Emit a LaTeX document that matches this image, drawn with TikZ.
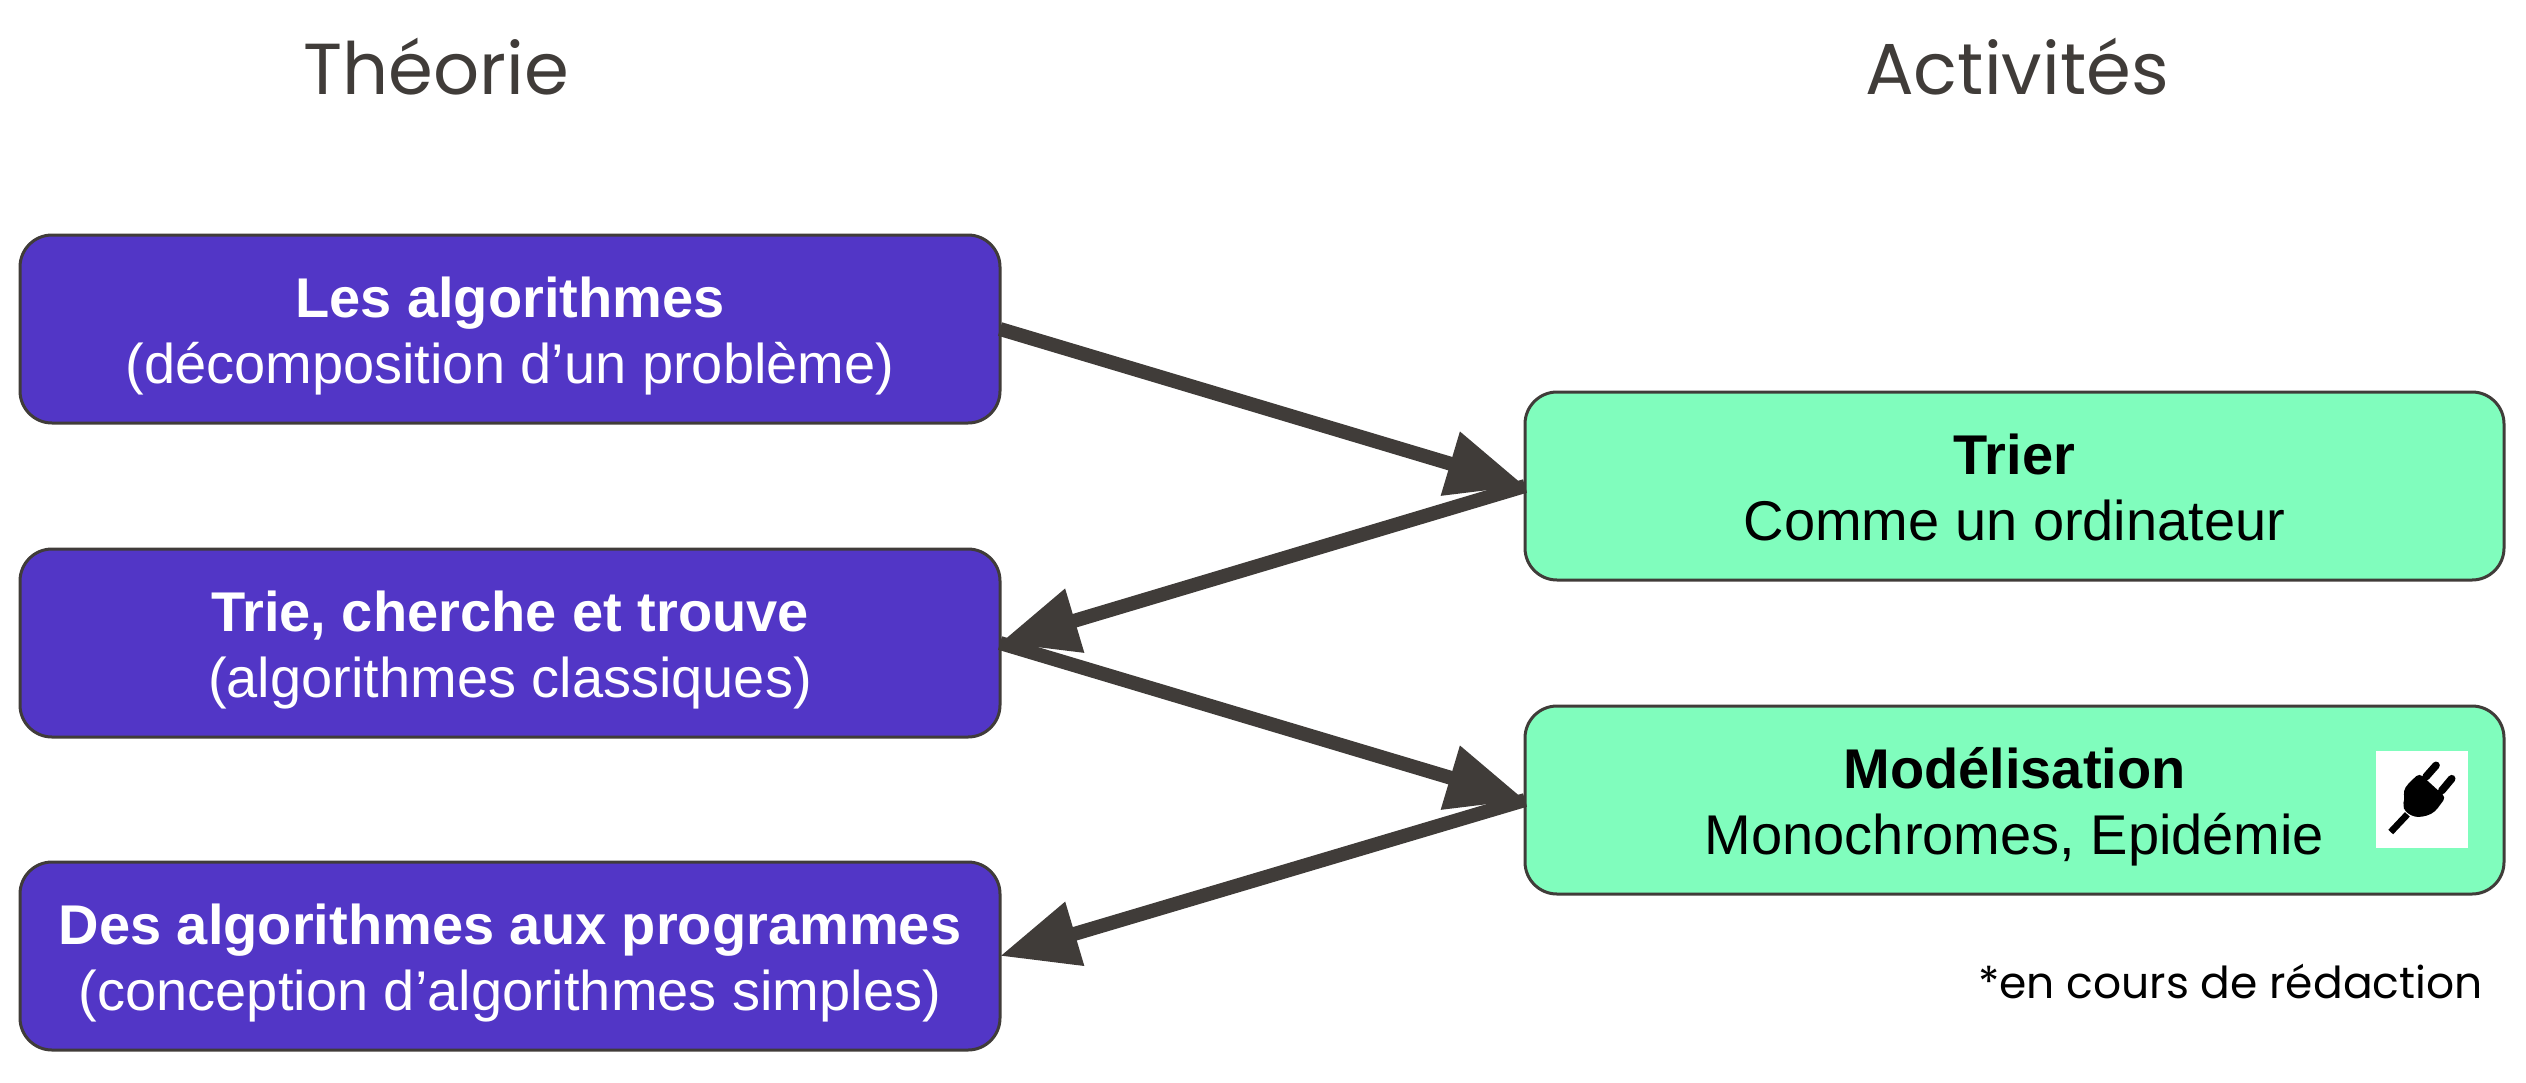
\documentclass[tikz,border=0pt]{standalone}
\usepackage{fontspec}
\setmainfont{Liberation Sans}
\newfontfamily\popp{Poppins}
\usetikzlibrary{arrows.meta}
\definecolor{violetbox}{HTML}{5236C6}
\definecolor{greenbox}{HTML}{80FDBD}
\definecolor{darkline}{HTML}{403C39}
\newcommand{\boxlines}[2]{\rule{0pt}{28pt}\textbf{#1}\\#2\rule[-6.8pt]{0pt}{6.8pt}}
\tikzset{
  px/.style={x=0.5pt,y=-0.5pt},
  boxbase/.style={draw=darkline,line width=1.5pt,rounded corners=16pt,minimum height=94pt,inner sep=0pt,outer sep=0pt,align=center,
    font=\fontsize{28pt}{33pt}\selectfont,anchor=north west},
  theory/.style={boxbase,fill=violetbox,text=white,minimum width=490pt},
  activity/.style={boxbase,fill=greenbox,text=black,minimum width=489.5pt},
  heading/.style={text=darkline,font=\popp\fontsize{36.1pt}{44pt}\selectfont,inner sep=0pt},
  link/.style={draw=darkline,line width=7pt,-{Triangle[length=39pt,width=31.5pt]}},
}
\begin{document}
\begin{tikzpicture}[px]
\useasboundingbox (0,0) rectangle (2526,1082);
\node[heading] (h1) at (436,67) {Théorie};
\node[heading] (h2) at (2017,67) {Activités};
\node[theory] (t1) at (20,235) {\boxlines{Les algorithmes}{(décomposition d’un problème)}};
\node[theory] (t2) at (20,549) {\boxlines{Trie, cherche et trouve}{(algorithmes classiques)}};
\node[theory] (t3) at (20,862) {\boxlines{Des algorithmes aux programmes}{(conception d’algorithmes simples)}};
\node[activity] (a1) at (1525,392) {\boxlines{Trier}{Comme un ordinateur}};
\node[activity] (a2) at (1525,706) {\boxlines{Modélisation}{Monochromes, Epidémie}};
\node[text=black,font=\popp\fontsize{22pt}{25pt}\selectfont,inner sep=0pt,anchor=east] (n) at (2483,981) {*en cours de rédaction};
\draw[link] (t1.east) -- (a1.west);
\draw[link] (a1.west) -- (t2.east);
\draw[link] (t2.east) -- (a2.west);
\draw[link] (a2.west) -- (t3.east);
% plug icon
\fill[white] (2376,751) rectangle (2468,848);
\begin{scope}[shift={(2300,720)},x=0.1667pt,y=-0.1667pt]
\draw[black,line width=3.8pt,line cap=round] (378,170) -- (408,136);
\draw[black,line width=3.8pt,line cap=round] (425,212) -- (455,176);
\draw[black,line width=3.3pt] (322,283) -- (272,336);
\fill[black,rounded corners=2pt] (358,160) -- (437,232) -- (405,275) -- (380,288) -- (345,292) -- (315,275) -- (308,255) -- (314,240) -- (310,212) -- (325,190) -- cycle;
\end{scope}
\end{tikzpicture}
\end{document}
